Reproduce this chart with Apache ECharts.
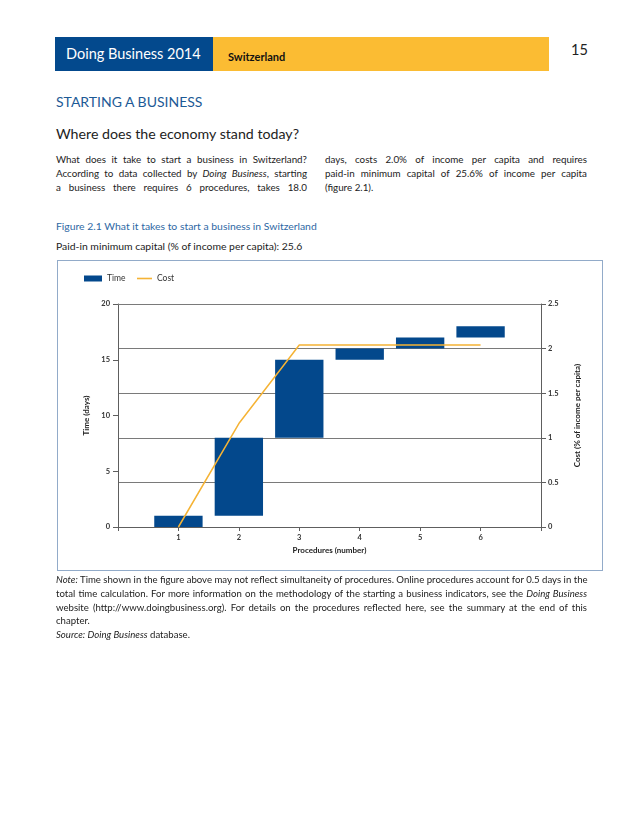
<!DOCTYPE html>
<html>
<head>
<meta charset="utf-8">
<script src="https://cdn.jsdelivr.net/npm/echarts@6/dist/echarts.min.js"></script>
<style>
  html, body { margin:0; padding:0; background:#fff; }
  body { width:638px; height:826px; position:relative; overflow:hidden; font-family: Lato, "Open Sans", sans-serif; color:#222; }
  .abs { position:absolute; white-space:nowrap; }
  .jl { position:absolute; white-space:nowrap; text-align:justify; text-align-last:justify; }
  .body { font-size:9.8px; line-height:13.6px; color:#222; }
  .note { font-size:9.6px; line-height:13.6px; color:#222; }
  .cap { font-size:10.4px; line-height:13.6px; }
</style>
</head>
<body>
<div class="abs" style="left:55px;top:37px;width:158px;height:34px;background:#03498d;"></div>
<div class="abs" style="left:213px;top:37px;width:336px;height:34px;background:#fbbc33;"></div>
<div class="abs" style="left:66px;top:45px;font-size:14.5px;color:#fff;">Doing Business 2014</div>
<div class="abs" style="left:228px;top:50px;font-size:11px;font-weight:bold;color:#111;">Switzerland</div>
<div class="abs" style="left:571px;top:41px;font-size:14.5px;color:#222;">15</div>

<div class="abs" style="left:56px;top:93px;font-size:14px;color:#1d5a96;">STARTING A BUSINESS</div>
<div class="abs" style="left:56px;top:125px;font-size:14.2px;color:#222;">Where does the economy stand today?</div>

<div class="jl body" style="left:56px;top:153px;width:251px;">What does it take to start a business in Switzerland?</div>
<div class="jl body" style="left:56px;top:167px;width:251px;">According to data collected by <i>Doing Business</i>, starting</div>
<div class="jl body" style="left:56px;top:181px;width:251px;">a business there requires 6 procedures, takes 18.0</div>
<div class="jl body" style="left:325px;top:153px;width:262px;">days, costs 2.0% of income per capita and requires</div>
<div class="jl body" style="left:325px;top:167px;width:262px;">paid-in minimum capital of 25.6% of income per capita</div>
<div class="abs body" style="left:325px;top:181px;">(figure 2.1).</div>

<div class="abs cap" style="left:56px;top:220px;color:#2e68a4;">Figure 2.1 What it takes to start a business in Switzerland</div>
<div class="abs cap" style="left:56px;top:240px;color:#222;">Paid-in minimum capital (% of income per capita): 25.6</div>

<div id="chart" style="position:absolute;left:57px;top:260px;width:546px;height:311px;"></div>
<div style="position:absolute;left:57px;top:260px;width:546px;height:311px;box-sizing:border-box;border:1.5px solid #92abc9;pointer-events:none;"></div>

<div class="jl note" style="left:56px;top:573px;width:531px;"><i>Note:</i> Time shown in the figure above may not reflect simultaneity of procedures. Online procedures account for 0.5 days in the</div>
<div class="jl note" style="left:56px;top:587px;width:531px;">total time calculation. For more information on the methodology of the starting a business indicators, see the <i>Doing Business</i></div>
<div class="jl note" style="left:56px;top:601px;width:531px;">website (http://www.doingbusiness.org). For details on the procedures reflected here, see the summary at the end of this</div>
<div class="abs note" style="left:56px;top:614px;">chapter.</div>
<div class="abs note" style="left:56px;top:628px;"><i>Source: Doing Business</i> database.</div>

<script>
const procedures = [1, 2, 3, 4, 5, 6];
const xTickLabels = ['1', '2', '3', '4', '5', '6'];
const timeStart = [0, 1, 8, 15, 16, 17];
const timeEnd = [1, 8, 15, 16, 17, 18];
const costCumulative = [0, 1.16, 2.04, 2.04, 2.04, 2.04];

const barColor = '#03488c';
const lineColor = '#f5b335';
const axisColor = '#5e5e5e';
const gridColor = '#7a7a7a';
const labelStyle = { fontSize: 7.5, fontWeight: 'bold', color: '#333', fontFamily: 'Lato' };
const nameStyle = { fontSize: 8, fontWeight: 'bold', color: '#222', fontFamily: 'Lato' };
const legendText = { fontSize: 8.5, color: '#333', fontFamily: 'Lato' };

const chart = echarts.init(document.getElementById('chart'), null, { renderer: 'canvas' });
chart.setOption({
  animation: false,
  textStyle: { fontFamily: 'Lato' },
  legend: [
    {
      left: 22, top: 9, itemWidth: 18, itemHeight: 6, textStyle: legendText,
      data: [{ name: 'Time', icon: 'rect' }]
    },
    {
      left: 75, top: 9, itemWidth: 15, itemHeight: 1.6, textStyle: legendText,
      data: [{ name: 'Cost', icon: 'rect' }]
    }
  ],
  grid: { left: 61, right: 62, top: 44, bottom: 44 },
  xAxis: [
    {
      type: 'value', position: 'bottom', min: 0, max: 7, interval: 1,
      name: 'Procedures (number)', nameLocation: 'middle', nameGap: 19, nameTextStyle: nameStyle,
      axisLine: { show: true, onZero: false, lineStyle: { color: axisColor, width: 1 } },
      axisTick: { show: true, length: 4, lineStyle: { color: axisColor } },
      axisLabel: Object.assign({ margin: 7, formatter: v => (v >= 1 && v <= 6) ? xTickLabels[v - 1] : '' }, labelStyle),
      splitLine: { show: false }
    },
    {
      type: 'value', position: 'top', min: 0, max: 7, interval: 1,
      axisLine: { show: true, onZero: false, lineStyle: { color: gridColor, width: 1 } },
      axisTick: { show: false }, axisLabel: { show: false }, splitLine: { show: false }
    }
  ],
  yAxis: [
    {
      type: 'value', position: 'left', min: 0, max: 20, interval: 5,
      name: 'Time (days)', nameLocation: 'middle', nameGap: 25, nameRotate: 90, nameTextStyle: nameStyle,
      axisLine: { show: true, onZero: false, lineStyle: { color: axisColor, width: 1 } },
      axisTick: { show: true, length: 5, lineStyle: { color: axisColor } },
      axisLabel: Object.assign({ margin: 8 }, labelStyle),
      splitLine: { show: false }
    },
    {
      type: 'value', position: 'right', min: 0, max: 2.5, interval: 0.5,
      name: 'Cost (% of income per capita)', nameLocation: 'middle', nameGap: 32, nameRotate: 90, nameTextStyle: nameStyle,
      axisLine: { show: true, onZero: false, lineStyle: { color: axisColor, width: 1 } },
      axisTick: { show: true, length: 5, lineStyle: { color: axisColor } },
      axisLabel: Object.assign({ margin: 7 }, labelStyle),
      splitLine: { show: true, lineStyle: { color: gridColor, width: 1 } }
    }
  ],
  series: [
    {
      name: 'Time', type: 'custom', xAxisIndex: 0, yAxisIndex: 0,
      itemStyle: { color: barColor },
      encode: { x: 0, y: [1, 2] },
      data: procedures.map((p, i) => [p, timeStart[i], timeEnd[i]]),
      renderItem: (params, api) => {
        const x = api.value(0), s = api.value(1), e = api.value(2);
        const p0 = api.coord([x - 0.4, e]);
        const p1 = api.coord([x + 0.4, s]);
        return { type: 'rect', shape: { x: p0[0], y: p0[1], width: p1[0] - p0[0], height: p1[1] - p0[1] }, style: { fill: barColor } };
      }
    },
    {
      name: 'Cost', type: 'line', xAxisIndex: 0, yAxisIndex: 1,
      symbol: 'none', lineStyle: { color: lineColor, width: 1.5 }, itemStyle: { color: lineColor },
      data: procedures.map((p, i) => [p, costCumulative[i]])
    }
  ]
});
</script>
</body>
</html>
